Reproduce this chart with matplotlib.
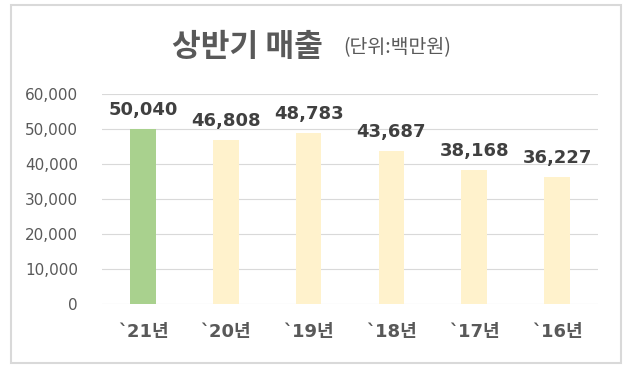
import matplotlib.pyplot as plt
from matplotlib.patches import Rectangle

plt.rcParams['font.family'] = ['Noto Sans CJK KR', 'DejaVu Sans']

years = ["`21년", "`20년", "`19년", "`18년", "`17년", "`16년"]
sales = [50040, 46808, 48783, 43687, 38168, 36227]
colors = ["#A9D18E", "#FFF2CC", "#FFF2CC", "#FFF2CC", "#FFF2CC", "#FFF2CC"]

fig = plt.figure(figsize=(6.37, 3.74), dpi=100)
ax = fig.add_axes([0.1595, 0.1872, 0.780, 0.5626])

x = range(len(years))
bars = ax.bar(x, sales, width=0.31, color=colors, zorder=2)

ax.set_xlim(-0.5, 5.5)
ax.set_ylim(0, 60000)
ax.set_yticks(range(0, 60001, 10000))
ax.set_yticklabels([f"{v:,}" for v in range(0, 60001, 10000)], family="DejaVu Sans")
ax.set_xticks(list(x))
ax.set_xticklabels(years, fontweight="bold", family=["DejaVu Sans", "Noto Sans CJK KR"])
ax.grid(axis="y", color="#D9D9D9", linewidth=0.8, zorder=0)
for s in ax.spines.values():
    s.set_visible(False)
ax.tick_params(axis="y", length=0, pad=17, labelsize=11, labelcolor="#595959")
ax.tick_params(axis="x", length=0, pad=14, labelsize=13, labelcolor="#595959")

for i, v in enumerate(sales):
    ax.annotate(f"{v:,}", (i, v), xytext=(0, 7), textcoords="offset points",
                ha="center", va="bottom", fontsize=13, fontweight="bold",
                family="DejaVu Sans", color="#404040")

fig.text(172 / 637, 1 - 47 / 374, "상반기 매출", fontsize=22.5, fontweight="bold",
         color="#595959", va="center", ha="left")
fig.text(343 / 637, 1 - 48 / 374, "(단위:백만원)", fontsize=14,
         color="#595959", va="center", ha="left")

fig.patches.append(Rectangle((10.5 / 637, 11 / 374), 610.5 / 637, 358 / 374,
                             transform=fig.transFigure, fill=False,
                             edgecolor="#D9D9D9", linewidth=1.5))

fig.savefig("out.png", dpi=100, facecolor="white")
